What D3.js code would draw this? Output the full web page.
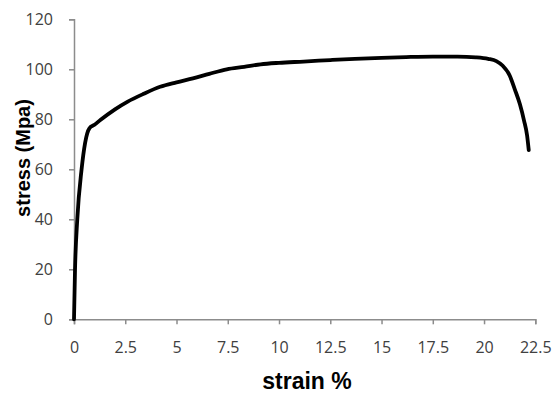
<!DOCTYPE html>
<html>
<head>
<meta charset="utf-8">
<script src="https://cdnjs.cloudflare.com/ajax/libs/d3/7.8.5/d3.min.js"></script>
<style>
  body { margin: 0; background: #fff; }
  svg { display: block; font-family: "Open Sans", "Liberation Sans", sans-serif; }
</style>
</head>
<body>
<div id="chart"></div>
<script>
// Stress-strain curve values
var strain = [0, 0.05, 0.16, 0.37, 0.54, 0.75, 1.0, 1.3, 2.0, 2.6, 3.4, 4.2, 5.0, 5.8, 6.6, 7.45, 8.3, 9.1, 10, 11.2, 12.5, 13.7, 15, 16.2, 17.5, 18.7, 19.6, 20.2, 20.6, 20.9, 21.25, 21.5, 21.75, 21.95, 22.1, 22.18];
var stress = [0, 20, 40, 60, 70.5, 76.4, 77.8, 79.8, 84, 87, 90.2, 93, 94.8, 96.4, 98.2, 100, 101, 102, 102.6, 103.1, 103.7, 104.2, 104.6, 104.9, 105.1, 105.1, 104.8, 104.2, 103.3, 101.5, 97.5, 92, 86, 79.5, 73.5, 67.7];
var xTicks = [0, 2.5, 5, 7.5, 10, 12.5, 15, 17.5, 20, 22.5];
var yTicks = [0, 20, 40, 60, 80, 100, 120];

var W = 555, H = 394;
var m = { left: 74, right: W - 535.3, top: 19.3, bottom: H - 319.3 };

var svg = d3.select("#chart").append("svg")
  .attr("width", W)
  .attr("height", H);

var x = d3.scaleLinear().domain([0, 22.5]).range([m.left, W - m.right]);
var y = d3.scaleLinear().domain([0, 120]).range([H - m.bottom, m.top]);

// Axes
var xAxis = svg.append("g")
  .attr("transform", translate(0, y(0)))
  .call(d3.axisBottom(x).tickValues(xTicks).tickSize(5).tickSizeOuter(5)
    .tickFormat(function(d) { return d; }));

var yAxis = svg.append("g")
  .attr("transform", translate(x(0), 0))
  .call(d3.axisLeft(y).tickValues(yTicks).tickSize(5).tickSizeOuter(5));

[xAxis, yAxis].forEach(function(a) {
  a.selectAll("path, line").style("stroke", "#8c8c8c").style("stroke-width", 1.5);
  a.selectAll("text").style("fill", "#404040").style("font-size", "16px")
    .style("font-family", "'Open Sans', sans-serif");
});
xAxis.selectAll("text").attr("y", 22);
yAxis.selectAll("text").attr("x", -21);

// Curve
var line = d3.line()
  .x(function(d) { return x(d[0]); })
  .y(function(d) { return y(d[1]); })
  .curve(d3.curveMonotoneX);

svg.append("path")
  .datum(d3.zip(strain, stress))
  .attr("d", line)
  .style("fill", "none")
  .style("stroke", "#000")
  .style("stroke-width", 3.8)
  .style("stroke-linejoin", "round")
  .style("stroke-linecap", "round");

// Titles
svg.append("text")
  .attr("transform", translate(307, 389))
  .attr("text-anchor", "middle")
  .style("font-family", "'Liberation Sans', sans-serif")
  .style("font-size", "23px")
  .style("font-weight", "bold")
  .style("fill", "#000")
  .text("strain %");

svg.append("text")
  .attr("transform", translate(30, 158) + " rotate(-90)")
  .attr("text-anchor", "middle")
  .style("font-family", "'Liberation Sans', sans-serif")
  .style("font-size", "20px")
  .style("font-weight", "bold")
  .style("fill", "#000")
  .text("stress (Mpa)");

function translate(a, b) {
  return "translate(" + a + " " + b + ")";
}
</script>
</body>
</html>
